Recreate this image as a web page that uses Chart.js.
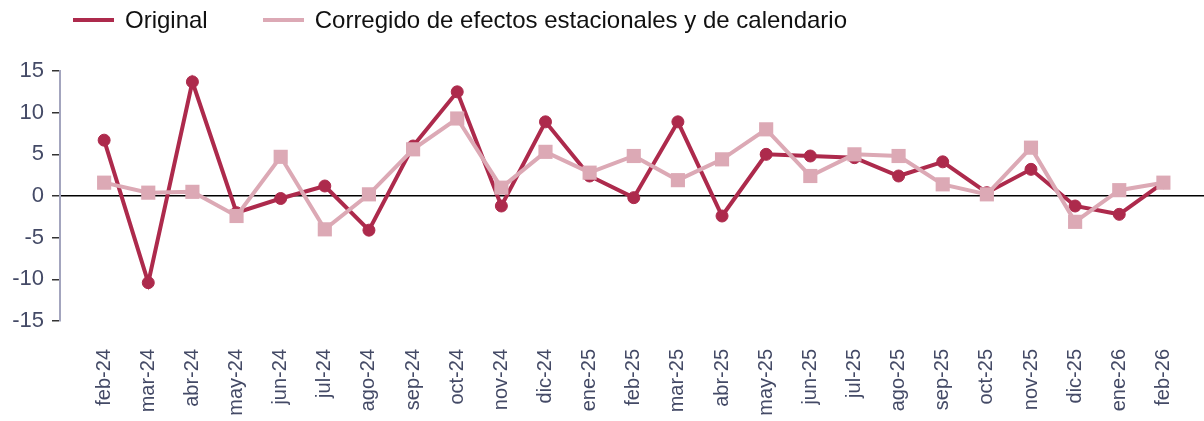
<!DOCTYPE html>
<html>
<head>
<meta charset="utf-8">
<script src="https://cdn.jsdelivr.net/npm/chart.js@4/dist/chart.umd.min.js"></script>
<style>
	body { margin: 0; background: #fff; }
	#wrap { position: relative; width: 1204px; height: 421px; }
	#legend { position: absolute; left: 73px; top: 6px; display: flex; gap: 55px; font: 24px 'Liberation Sans', Arial, sans-serif; color: #111; z-index: 2; }
	#legend .item { display: flex; align-items: center; }
	#legend .sw { width: 41px; height: 4px; margin-right: 11px; }
</style>
</head>
<body>
<div id="wrap">
	<div id="legend"></div>
	<canvas id="chart"></canvas>
</div>
<script>
// meses
const labels = ['feb-24','mar-24','abr-24','may-24','jun-24','jul-24','ago-24','sep-24','oct-24','nov-24','dic-24','ene-25',
	'feb-25','mar-25','abr-25','may-25','jun-25','jul-25','ago-25','sep-25','oct-25','nov-25','dic-25','ene-26','feb-26'];

// serie original
const original = [6.7, -10.4, 13.7, -2.0, -0.3, 1.2, -4.1, 6.0, 12.5, -1.2, 8.9, 2.4,
	-0.2, 8.9, -2.4, 5.0, 4.8, 4.6, 2.4, 4.1, 0.4, 3.2, -1.2, -2.2, 1.6];

// serie corregida de efectos estacionales y de calendario
const corregido = [1.6, 0.4, 0.5, -2.4, 4.7, -4.0, 0.2, 5.6, 9.3, 1.0, 5.3, 2.8,
	4.8, 1.9, 4.4, 8.0, 2.4, 5.0, 4.8, 1.4, 0.2, 5.8, -3.1, 0.7, 1.6];

const yTicks = [-15, -10, -5, 0, 5, 10, 15];

const colors = { dark: '#ad2a4c', light: '#dca9b5', text: '#444a66', axis: '#a3a5be' };
const font = "'Liberation Sans', Arial, sans-serif";

const toPoints = arr => arr.map((v, i) => ({ x: i, y: v }));

const datasets = [
	{
		label: 'Original',
		data: toPoints(original),
		borderColor: colors.dark,
		backgroundColor: colors.dark,
		pointBackgroundColor: colors.dark,
		pointBorderColor: colors.dark,
		borderWidth: 4,
		pointStyle: 'circle',
		pointRadius: 6,
		pointBorderWidth: 1,
		order: 2
	},
	{
		label: 'Corregido de efectos estacionales y de calendario',
		data: toPoints(corregido),
		borderColor: colors.light,
		backgroundColor: colors.light,
		pointBackgroundColor: colors.light,
		pointBorderColor: colors.light,
		borderWidth: 4,
		pointStyle: 'rect',
		pointRadius: 10,
		pointBorderWidth: 0,
		order: 1
	}
];

// leyenda en html
const legend = document.getElementById('legend');
datasets.forEach(ds => {
	const item = document.createElement('div');
	item.className = 'item';
	item.innerHTML = `<span class="sw" style="background:${ds.borderColor}"></span><span>${ds.label}</span>`;
	legend.appendChild(item);
});

new Chart(document.getElementById('chart'), {
	type: 'line',
	data: { datasets: datasets },
	options: {
		responsive: true,
		maintainAspectRatio: false,
		animation: false,
		layout: { autoPadding: false, padding: { top: 71, right: 0, left: 0, bottom: 0 } },
		plugins: {
			legend: { display: false },
			tooltip: { enabled: false }
		},
		scales: {
			x: {
				type: 'linear',
				min: -1,
				max: 24.92,
				afterBuildTicks: s => { s.ticks = labels.map((_, i) => ({ value: i })); },
				afterFit: s => { s.height = 100; s.paddingLeft = 0; s.paddingRight = 0; },
				grid: { display: false, drawTicks: false },
				border: { display: false },
				ticks: {
					autoSkip: false,
					maxRotation: 90,
					minRotation: 90,
					padding: 28,
					color: colors.text,
					font: { family: font, size: 20 },
					callback: v => labels[v]
				}
			},
			y: {
				min: -15,
				max: 15,
				afterBuildTicks: s => { s.ticks = yTicks.map(v => ({ value: v })); },
				afterFit: s => { s.width = 60; },
				border: { display: true, color: colors.axis, width: 2 },
				grid: {
					color: c => (c.tick && c.tick.value === 0) ? '#000' : 'transparent',
					tickColor: '#333',
					tickLength: 8,
					lineWidth: 1.5
				},
				ticks: {
					padding: 8,
					color: colors.text,
					font: { family: font, size: 22 }
				}
			}
		}
	}
});
</script>
</body>
</html>
